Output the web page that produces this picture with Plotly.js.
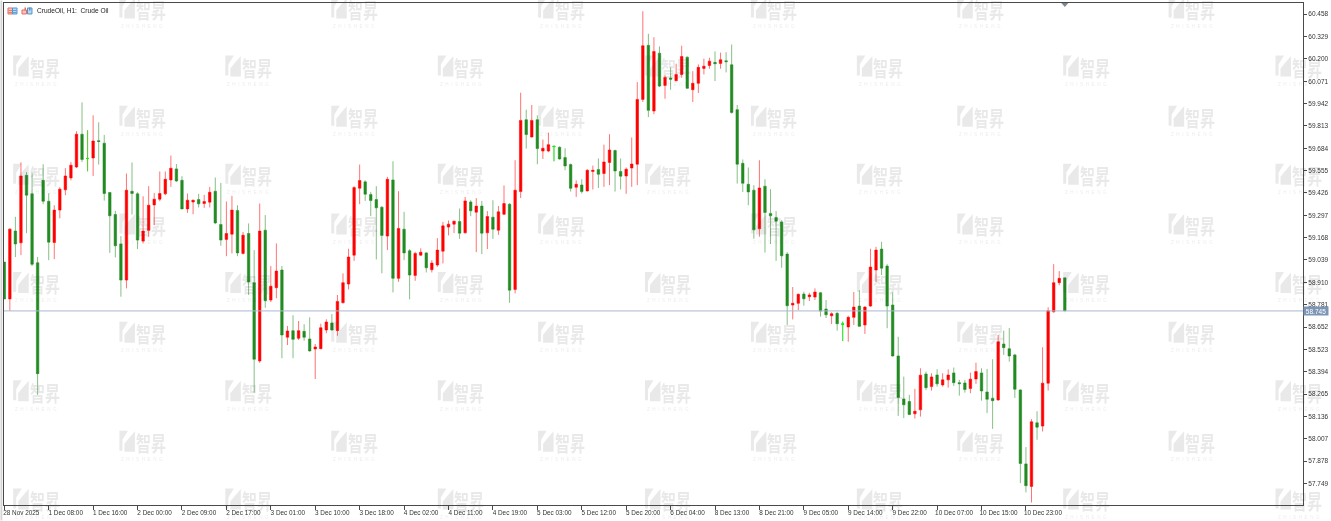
<!DOCTYPE html>
<html>
<head>
<meta charset="utf-8">
<script src="https://cdn.plot.ly/plotly-3.0.1.min.js"></script>
<style>
html,body{margin:0;padding:0;background:#fff;overflow:hidden}
#chart{width:1331px;height:521px;filter:blur(0.3px)}
</style>
</head>
<body>
<div id="chart"></div>
<script>
const openPrice = [
59.027,58.814,59.206,59.138,59.528,59.421,59.023,59.499,59.378,59.140,59.327,59.444,
59.513,59.576,59.765,59.625,59.628,59.728,59.713,59.429,59.302,59.132,58.923,59.436,
59.421,59.148,59.210,59.357,59.390,59.421,59.501,59.565,59.499,59.334,59.374,59.388,
59.365,59.373,59.436,59.244,59.158,59.188,59.325,59.077,59.192,58.908,58.456,59.211,
58.808,58.879,58.981,58.593,58.631,58.587,58.627,58.583,58.525,58.527,58.635,58.675,
58.631,58.792,58.900,59.067,59.453,59.490,59.417,59.388,59.344,59.177,59.501,58.933,
59.217,59.092,58.950,59.067,59.080,58.983,59.010,59.090,59.229,59.246,59.261,59.196,
59.374,59.315,59.350,59.196,59.286,59.211,59.303,59.361,58.869,59.434,59.849,59.749,
59.849,59.668,59.668,59.694,59.690,59.630,59.590,59.459,59.472,59.438,59.550,59.561,
59.538,59.602,59.671,59.550,59.524,59.570,59.592,59.966,60.278,59.899,60.233,60.047,
60.089,60.074,60.110,60.210,60.022,60.059,60.145,60.162,60.180,60.174,60.189,60.166,
59.907,59.597,59.476,59.442,59.219,59.465,59.308,59.285,59.259,59.073,58.779,58.789,
58.842,58.827,58.825,58.850,58.756,58.717,58.731,58.669,58.652,58.708,58.773,58.664,
58.773,58.981,59.102,59.004,58.779,58.485,58.237,58.222,58.151,58.174,58.381,58.308,
58.375,58.318,58.347,58.387,58.331,58.329,58.297,58.352,58.387,58.277,58.241,58.231,
58.554,58.527,58.491,58.289,57.862,57.732,58.099,58.080,58.328,58.740,58.908,58.936];
const highPrice = [
59.027,59.223,59.288,59.603,59.546,59.542,59.057,59.592,59.425,59.355,59.459,59.569,
59.605,59.782,59.949,59.788,59.874,59.834,59.761,59.430,59.323,59.177,59.538,59.602,
59.430,59.407,59.465,59.425,59.550,59.550,59.642,59.593,59.523,59.423,59.388,59.421,
59.415,59.461,59.515,59.484,59.377,59.409,59.355,59.201,59.250,59.096,59.365,59.298,
59.004,59.135,59.004,58.658,58.720,58.687,58.668,58.708,58.554,58.671,58.697,58.727,
58.837,58.962,59.104,59.465,59.590,59.499,59.432,59.465,59.350,59.519,59.609,59.436,
59.317,59.102,59.086,59.106,59.084,59.038,59.165,59.259,59.267,59.267,59.336,59.403,
59.384,59.396,59.380,59.321,59.384,59.351,59.469,59.367,59.615,60.005,59.907,59.934,
59.874,59.734,59.774,59.701,59.695,59.684,59.596,59.499,59.505,59.563,59.584,59.625,
59.705,59.765,59.676,59.625,59.573,59.746,60.066,60.475,60.345,60.325,60.272,60.105,
60.151,60.172,60.276,60.214,60.129,60.168,60.201,60.207,60.243,60.236,60.239,60.283,
59.934,59.619,59.573,59.471,59.615,59.505,59.448,59.321,59.269,59.084,58.883,58.846,
58.856,58.850,58.875,58.854,58.808,58.737,58.740,58.683,58.717,58.854,58.865,58.773,
59.104,59.115,59.144,59.015,58.852,58.596,58.366,58.260,58.295,58.414,58.395,58.385,
58.408,58.385,58.408,58.418,58.347,58.347,58.389,58.446,58.414,58.410,58.466,58.606,
58.631,58.646,58.497,58.293,57.959,58.120,58.166,58.535,58.766,59.015,58.975,58.936];
const lowPrice = [
58.814,58.746,59.056,59.067,59.194,59.004,58.260,59.361,59.038,59.044,59.280,59.413,
59.499,59.570,59.605,59.551,59.524,59.590,59.382,59.080,59.054,58.827,58.875,59.302,
59.102,59.135,59.173,59.240,59.378,59.413,59.461,59.490,59.331,59.311,59.303,59.342,
59.340,59.342,59.246,59.121,59.061,59.077,59.061,59.071,58.837,58.273,58.445,58.763,
58.796,58.818,58.472,58.548,58.472,58.577,58.573,58.510,58.352,58.524,58.616,58.631,
58.602,58.789,58.869,59.034,59.361,59.380,59.292,59.042,58.962,59.096,58.852,58.913,
59.038,58.812,58.919,59.063,58.967,58.967,59.000,59.019,59.181,59.194,59.161,59.192,
59.292,59.084,59.073,59.102,59.161,59.184,59.298,58.792,58.846,59.397,59.682,59.746,
59.592,59.622,59.661,59.609,59.619,59.557,59.434,59.403,59.423,59.434,59.446,59.455,
59.461,59.471,59.434,59.446,59.421,59.461,59.471,59.951,59.864,59.880,60.037,59.970,
60.022,60.070,60.091,60.028,59.951,60.003,60.110,60.143,60.072,60.143,60.122,59.884,
59.480,59.432,59.355,59.162,59.173,59.082,59.131,59.034,58.994,58.664,58.696,58.750,
58.775,58.802,58.808,58.712,58.704,58.669,58.631,58.571,58.567,58.664,58.654,58.612,
58.769,58.912,58.952,58.645,58.481,58.139,58.126,58.143,58.124,58.135,58.289,58.285,
58.308,58.308,58.302,58.312,58.256,58.273,58.270,58.324,58.227,58.155,58.064,58.227,
58.491,58.452,58.243,57.751,57.697,57.639,58.001,58.049,58.285,58.735,58.893,58.745];
const closePrice = [
58.814,59.217,59.132,59.524,59.413,59.014,58.383,59.378,59.142,59.327,59.448,59.524,
59.586,59.765,59.619,59.625,59.726,59.723,59.423,59.294,59.121,58.923,59.442,59.423,
59.154,59.206,59.355,59.390,59.423,59.505,59.569,59.495,59.334,59.384,59.384,59.363,
59.377,59.430,59.253,59.154,59.192,59.327,59.080,59.182,58.912,58.466,59.206,58.804,
58.888,58.975,58.606,58.629,58.581,58.631,58.593,58.514,58.537,58.648,58.681,58.635,
58.800,58.908,59.056,59.457,59.498,59.419,59.382,59.340,59.181,59.505,58.933,59.221,
59.080,58.952,59.077,59.084,58.994,59.021,59.096,59.236,59.246,59.263,59.194,59.380,
59.323,59.350,59.194,59.290,59.217,59.317,59.365,58.865,59.442,59.845,59.763,59.845,
59.682,59.684,59.705,59.694,59.622,59.582,59.453,59.476,59.434,59.557,59.557,59.534,
59.605,59.674,59.553,59.523,59.563,59.593,59.966,60.276,59.903,60.243,60.043,60.093,
60.083,60.110,60.214,60.030,60.059,60.151,60.158,60.187,60.172,60.195,60.184,59.890,
59.592,59.482,59.432,59.213,59.455,59.313,59.294,59.263,59.063,58.775,58.789,58.841,
58.815,58.837,58.854,58.744,58.723,58.729,58.671,58.669,58.708,58.767,58.656,58.767,
58.998,59.096,58.992,58.773,58.485,58.245,58.203,58.147,58.166,58.374,58.302,58.364,
58.324,58.347,58.375,58.331,58.325,58.291,58.351,58.395,58.283,58.235,58.227,58.567,
58.533,58.485,58.293,57.864,57.736,58.105,58.074,58.328,58.746,58.908,58.933,58.745];

const xTickBars = [0,8,16,24,32,40,48,56,64,72,80,88,96,104,112,120,128,136,144,152,160,168,176,184];
const xTickLabels = ["28 Nov 2025","1 Dec 08:00","1 Dec 16:00","2 Dec 00:00","2 Dec 09:00","2 Dec 17:00","3 Dec 01:00","3 Dec 10:00","3 Dec 18:00","4 Dec 02:00","4 Dec 11:00","4 Dec 19:00","5 Dec 03:00","5 Dec 12:00","5 Dec 20:00","6 Dec 04:00","8 Dec 13:00","8 Dec 21:00","9 Dec 05:00","9 Dec 14:00","9 Dec 22:00","10 Dec 07:00","10 Dec 15:00","10 Dec 23:00"];
const yTickLabels = ["60.458","60.329","60.200","60.071","59.942","59.813","59.684","59.555","59.426","59.297","59.168","59.039","58.910","58.781","58.652","58.523","58.394","58.265","58.136","58.007","57.878","57.749"];

const chartTitle = "CrudeOil, H1:  Crude Oil";
const lastPrice = "58.745";
const watermarkColumnsA = [12.7,225,437.7,645,857,1063.5,1276];
const watermarkRowsA = [55,163.5,272,380.5,489];
const watermarkColumnsB = [119,331,538,751,957.5,1169];
const watermarkRowsB = [-3,105.5,213.5,322,431];

const W = 1331, H = 521;
const L = 3.5, R = 1303.5, T = 2.5, B = 505.5;
const px = v => (v - L) / (R - L);
const py = v => 1 - (v - T) / (B - T);

const bars = openPrice.map((_, i) => i);
const dojiBars = bars.filter(i => openPrice[i] === closePrice[i]);
const redBody = '#ff0000', greenBody = '#228b22';
const FONT = '"Liberation Sans", Arial, sans-serif';

const traces = [{
  type: 'candlestick', x: bars, open: openPrice, high: highPrice, low: lowPrice, close: closePrice,
  whiskerwidth: 0,
  increasing: {line: {color: 'rgba(255,0,0,0.55)', width: 1}, fillcolor: redBody},
  decreasing: {line: {color: 'rgba(34,139,34,0.55)', width: 1}, fillcolor: greenBody},
  hoverinfo: 'skip', showlegend: false
}, {
  type: 'candlestick', x: dojiBars,
  open: dojiBars.map(i => openPrice[i]), high: dojiBars.map(i => highPrice[i]),
  low: dojiBars.map(i => lowPrice[i]), close: dojiBars.map(i => closePrice[i]),
  whiskerwidth: 0,
  increasing: {line: {color: 'rgba(0,255,0,0.7)', width: 1}},
  decreasing: {line: {color: 'rgba(0,255,0,0.7)', width: 1}},
  hoverinfo: 'skip', showlegend: false
}];

const annotations = [];
const shapes = [];

function pxShape(ax, ay, path, fill) {
  shapes.push({type: 'path', xref: 'paper', yref: 'paper', xsizemode: 'pixel', ysizemode: 'pixel',
    xanchor: px(ax), yanchor: py(ay), path, fillcolor: fill, line: {width: 0}, layer: 'above'});
}

function watermark(x, y) {
  const c = 'rgba(60,60,60,0.115)';
  pxShape(x, y, 'M0,0 L8.5,0 L3,-9 L3,-20 L0,-20 Z', c);
  pxShape(x, y, 'M15.5,-0.5 L15.5,-21 L5,-21 L5,-13 L9,-8 Z', c);
  annotations.push({xref: 'paper', yref: 'paper', x: px(x + 31.5), y: py(y + 11), xanchor: 'center', yanchor: 'middle',
    text: '智昇', showarrow: false, font: {family: '"Noto Sans CJK SC"', size: 15, color: c, weight: 700}});
  annotations.push({xref: 'paper', yref: 'paper', x: px(x + 23), y: py(y + 29), xanchor: 'center', yanchor: 'middle',
    text: 'Z\u00a0\u00a0H\u00a0\u00a0I\u00a0\u00a0S\u00a0\u00a0H\u00a0\u00a0E\u00a0\u00a0N\u00a0\u00a0G', showarrow: false,
    font: {family: FONT, size: 4.6, color: 'rgba(60,60,60,0.1)'}});
}
watermarkColumnsA.forEach(x => watermarkRowsA.forEach(y => watermark(x, y)));
watermarkColumnsB.forEach(x => watermarkRowsB.forEach(y => watermark(x, y)));

// title and toolbar icons
annotations.push({xref: 'paper', yref: 'paper', x: px(35), y: py(9.8), xanchor: 'left', yanchor: 'middle',
  text: chartTitle, showarrow: false, font: {family: FONT, size: 6.6, color: '#222'}});
function box(x0, y0, x1, y1, fill, line) {
  shapes.push({type: 'rect', xref: 'paper', yref: 'paper', x0: px(x0), x1: px(x1), y0: py(y0), y1: py(y1),
    fillcolor: fill, line: {color: line || fill, width: line ? 1 : 0}, layer: 'above'});
}
box(7.5, 7.5, 12, 13.5, '#f7c9c2', '#e86a5c');
box(12, 7.5, 16.5, 13.5, '#bcd8f0', '#4f94d0');
[9.5, 11.5].forEach(y => { box(8, y, 11.5, y + 0.8, '#e86a5c'); box(12.5, y, 16, y + 0.8, '#4f94d0'); });
box(21.5, 9.5, 26, 13.5, '#f7c9c2', '#e86a5c');
box(27, 7.5, 31.5, 13.5, '#bcd8f0', '#4f94d0');
box(24, 7, 25.5, 10, '#e86a5c');
box(28.5, 7, 30, 10, '#4f94d0');

// last-price line, tag and period marker
shapes.push({type: 'line', xref: 'paper', yref: 'y', x0: 0, x1: 1, y0: +lastPrice, y1: +lastPrice,
  line: {color: '#aab8cc', width: 1}, layer: 'above'});
annotations.push({xref: 'paper', yref: 'y', x: px(1304), y: +lastPrice, xanchor: 'left', yanchor: 'middle',
  text: lastPrice, showarrow: false, bgcolor: '#7d95b5', borderpad: 0, width: 24, height: 8, align: 'center',
  font: {family: FONT, size: 6.5, color: '#ffffff'}});
shapes.push({type: 'path', xref: 'x', yref: 'paper', xsizemode: 'pixel', ysizemode: 'pixel', xanchor: 191, yanchor: 1,
  path: 'M-3.5,0 L3.5,0 L0,-4 Z', fillcolor: '#7c8694', line: {width: 0}, layer: 'above'});
box(0, 0, 1.8, H, '#d4d4d4');

const axisCol = '#4a4a4a';
const layout = {
  width: W, height: H, paper_bgcolor: '#ffffff', plot_bgcolor: '#ffffff',
  margin: {l: L, r: W - R, t: T, b: H - B, pad: 0},
  showlegend: false, boxgap: 0.36, dragmode: false,
  xaxis: {
    type: 'linear', range: [-0.054, 233.9], rangeslider: {visible: false}, showgrid: false, zeroline: false,
    showline: true, linecolor: axisCol, linewidth: 1, mirror: true,
    tickmode: 'array', tickvals: xTickBars, ticktext: xTickLabels, ticks: 'outside', ticklen: 4, tickcolor: axisCol, tickwidth: 1,
    ticklabelshift: 17, ticklabelstandoff: -3,
    tickfont: {family: FONT, size: 6.4, color: '#333'}, fixedrange: true
  },
  yaxis: {
    side: 'right', range: [57.6246, 60.5226], showgrid: false, zeroline: false,
    showline: true, linecolor: axisCol, linewidth: 1, mirror: true,
    tickmode: 'array', tickvals: yTickLabels.map(Number), ticktext: yTickLabels, ticks: 'outside', ticklen: 3, tickcolor: axisCol, tickwidth: 1,
    tickfont: {family: FONT, size: 6.5, color: '#333'}, fixedrange: true
  },
  shapes, annotations
};

Plotly.newPlot('chart', traces, layout, {staticPlot: true, displayModeBar: false}).then(gd => {
  gd.querySelectorAll('.annotation-text').forEach(t => {
    if (t.textContent === '智昇') {
      t.style.transformBox = 'fill-box';
      t.style.transformOrigin = 'center';
      t.style.transform = 'scaleY(1.4)';
    }
  });
});
</script>
</body>
</html>
